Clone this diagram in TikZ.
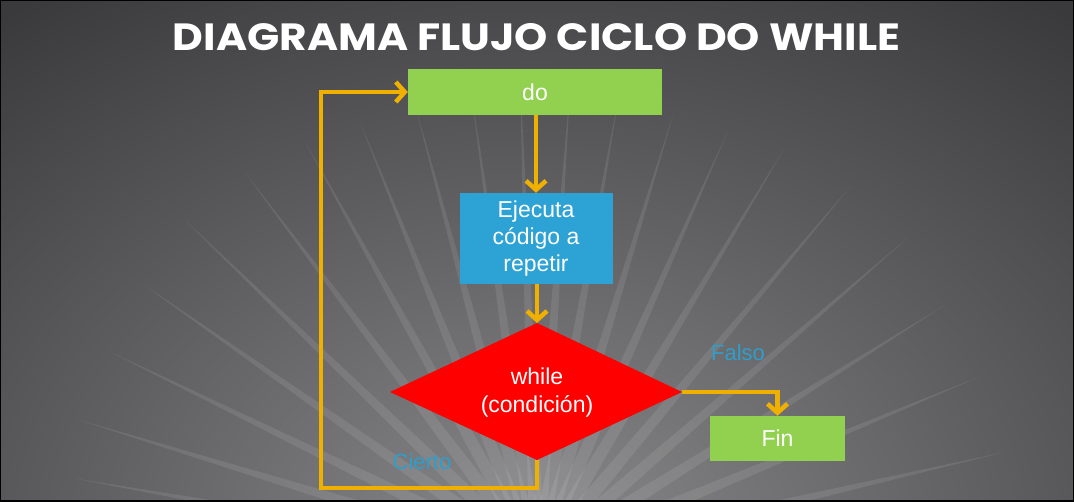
\documentclass[tikz,border=0pt]{standalone}
\usepackage{fontspec}
\setmainfont{Liberation Sans}
\newfontfamily\titlefont{Poppins}
\usetikzlibrary{arrows.meta,calc}
\definecolor{bgc}{RGB}{58,58,61}
\definecolor{glowc}{RGB}{136,136,138}
\definecolor{boxgreen}{RGB}{146,208,80}
\definecolor{boxblue}{RGB}{45,162,213}
\definecolor{arrowc}{RGB}{240,176,0}
\definecolor{lblblue}{RGB}{46,158,204}
\tikzset{
  box/.style={fill=#1, text=white, inner sep=0pt, align=center,
    font=\fontsize{23}{27}\selectfont},
  flow/.style={draw=arrowc, line width=4.5pt, line join=miter,
    -{Straight Barb[length=9pt,width=20pt]}},
  lbl/.style={text=lblblue, font=\fontsize{22}{26}\selectfont, inner sep=0pt},
  ray/.style={fill=white, opacity=0.09}
}
\begin{document}
\begin{tikzpicture}[x=1pt,y=-1pt]
\useasboundingbox (0,0) rectangle (1074,501);
% background
\fill[bgc] (0,0) rectangle (1074,501);
\begin{scope}
\clip (0,0) rectangle (1074,501);
\shade[inner color=glowc, outer color=bgc] (537,540) ellipse (880 and 660);
\coordinate (C) at (537,560);
\foreach \a/\L in {13/480, 22.5/478, 32/480, 41/490, 50/488, 59/480, 66/470, 73/470, 80/472, 86/478, 92/476, 98/472, 105/470, 112/472, 119/480, 127/485, 136/490, 145/480, 154/475, 163/480, 170/470}{
  \fill[ray] ($(C)+({\L*cos(\a)},{-\L*sin(\a)})$) -- ($(C)+({8*sin(\a)},{8*cos(\a)})$) -- ($(C)+({-8*sin(\a)},{-8*cos(\a)})$) -- cycle;
}
\end{scope}
\draw[black, line width=2pt] (0,0) rectangle (1074,501);
% title
\node[text=white, inner sep=0pt] (title) at (536.5,36.7)
  {\resizebox{727pt}{27pt}{\titlefont\bfseries DIAGRAMA FLUJO CICLO DO WHILE}};
% nodes
\node[box=boxgreen, minimum width=254pt, minimum height=46pt] (do) at (535,92) {do};
\node[box=boxblue, minimum width=153pt, minimum height=91pt] (exec) at (536,238.5) {Ejecuta\\código a\\repetir};
\coordinate (cn) at (537,323);
\coordinate (ce) at (682,392);
\coordinate (cs) at (537,460);
\coordinate (cw) at (390,392);
\fill[red] (cn) -- (ce) -- (cs) -- (cw) -- cycle;
\node[text=white, inner sep=0pt, align=center,
  font=\fontsize{23}{28}\selectfont] (cond) at (537,393) {while\\(condición)};
\node[box=boxgreen, minimum width=135pt, minimum height=45pt] (fin) at (777.5,438.5) {Fin};
\coordinate (lb) at (321,488);
% connectors
\draw[flow] (do.south -| exec.north) -- (exec.north);
\draw[flow] (exec.south -| cn) -- (cn);
\draw[flow] (ce) -| (fin.north);
\draw[flow] (cs) |- (lb) |- (do.west);
% labels
\node[lbl] (falso) at (738,353) {Falso};
\node[lbl] (cierto) at (422,462) {Cierto};
\end{tikzpicture}
\end{document}
